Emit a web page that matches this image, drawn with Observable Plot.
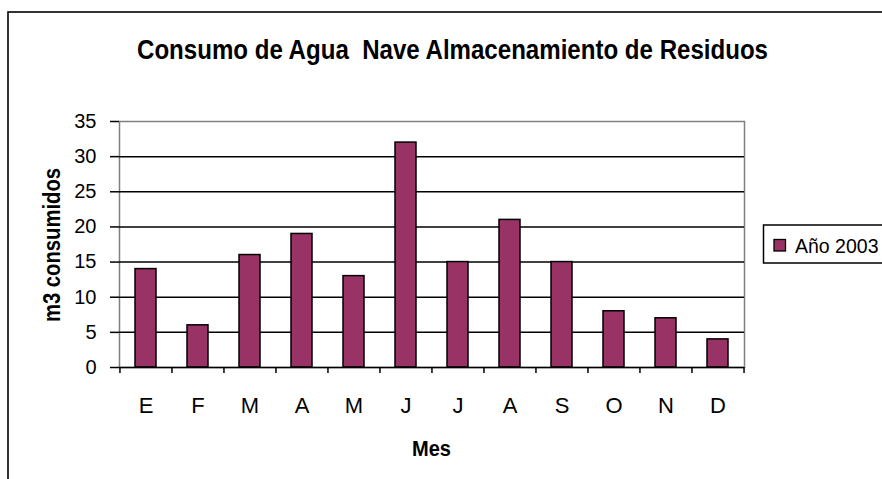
<!DOCTYPE html>
<html>
<head>
<meta charset="utf-8">
<script src="https://cdn.jsdelivr.net/npm/d3@7"></script>
<script src="https://cdn.jsdelivr.net/npm/@observablehq/plot@0.6"></script>
<style>
  html, body { margin: 0; padding: 0; background: #fff; overflow: hidden; }
  svg { display: block; }
</style>
</head>
<body>
<div id="chart"></div>
<script>
const months = ["E","F","M","A","M ","J","J ","A ","S","O","N","D"];
const monthLabels = ["E","F","M","A","M","J","J","A","S","O","N","D"];
const values2003 = [14, 6, 16, 19, 13, 32, 15, 21, 15, 8, 7, 4];
const yTicks = [0, 5, 10, 15, 20, 25, 30, 35];
const gridBlack = [5, 10, 15, 20, 25, 30];
const seriesName = "Año 2003";
const title = "Consumo de Agua  Nave Almacenamiento de Residuos";
const yTitle = "m3 consumidos";
const xTitle = "Mes";

const data = months.map((m, i) => ({month: m, value: values2003[i]}));

const W = 882, H = 479;
const mL = 119, mR = 138, mT = 121, mB = 112;
const step = (W - mL - mR) / months.length;
const sans = "'Liberation Sans', Arial, sans-serif";

const plot = Plot.plot({
  width: W, height: H,
  marginLeft: mL, marginRight: mR, marginTop: mT, marginBottom: mB,
  style: {fontFamily: sans, fontSize: "20px", background: "white", color: "black"},
  x: {domain: months, paddingInner: 0.6, paddingOuter: 0.3, label: null},
  y: {domain: [0, 35], label: null},
  marks: [
    Plot.frame({stroke: "#808080", strokeWidth: 1.5}),
    Plot.ruleY(gridBlack, {stroke: "black", strokeWidth: 1.5}),
    Plot.barY(data, {x: "month", y: "value", fill: "#993366", stroke: "black", strokeWidth: 1.5}),
    Plot.axisY({ticks: yTicks, tickSize: 9, tickPadding: 14, fontSize: 20, line: true, stroke: "black", strokeWidth: 1.5, label: null, ariaLabel: "y-axis"}),
    Plot.axisX({tickSize: 0, tickPadding: 30, fontSize: 22, tickFormat: d => monthLabels[months.indexOf(d)], label: null, ariaLabel: "x-axis"}),
    Plot.ruleY([0], {stroke: "black", strokeWidth: 1.5}),
    Plot.ruleX(months, {x: d => d, y1: 0, y2: -0.85, dx: -step / 2, stroke: "black", strokeWidth: 1.5}),
    Plot.ruleX([months[months.length - 1]], {x: d => d, y1: 0, y2: -0.85, dx: step / 2, stroke: "black", strokeWidth: 1.5})
  ]
});

const svg = d3.select(plot);
// outer chart border
svg.append("rect").attr("x", 8).attr("y", 12).attr("width", 900).attr("height", 500)
  .attr("fill", "none").attr("stroke", "black").attr("stroke-width", 1.6);

function narrowText(x, y, str, size, len, transform) {
  const t = svg.append("text")
    .attr("text-anchor", "start")
    .attr("textLength", len).attr("lengthAdjust", "spacingAndGlyphs")
    .style("font-family", sans).style("font-weight", "bold").style("font-size", size + "px")
    .text(str);
  if (transform) t.attr("transform", transform).attr("x", 0).attr("y", 0);
  else t.attr("x", x).attr("y", y);
  return t;
}
// title
narrowText(137, 59, title, 27, 631);
// y title (rotated)
narrowText(0, 0, yTitle, 23, 154, "translate(60,322) rotate(-90)");
// x title
narrowText(412, 456, xTitle, 22.5, 39);

// legend
const lg = svg.append("g");
lg.append("rect").attr("x", 763.5).attr("y", 225).attr("width", 140).attr("height", 38)
  .attr("fill", "white").attr("stroke", "black").attr("stroke-width", 1.5);
lg.append("rect").attr("x", 774).attr("y", 239.5).attr("width", 11.5).attr("height", 11.5)
  .attr("fill", "#993366").attr("stroke", "black").attr("stroke-width", 1.3);
lg.append("text").attr("x", 795).attr("y", 253).attr("text-anchor", "start")
  .style("font-family", sans).style("font-size", "19.5px")
  .text(seriesName);

document.getElementById("chart").appendChild(plot);
</script>
</body>
</html>
